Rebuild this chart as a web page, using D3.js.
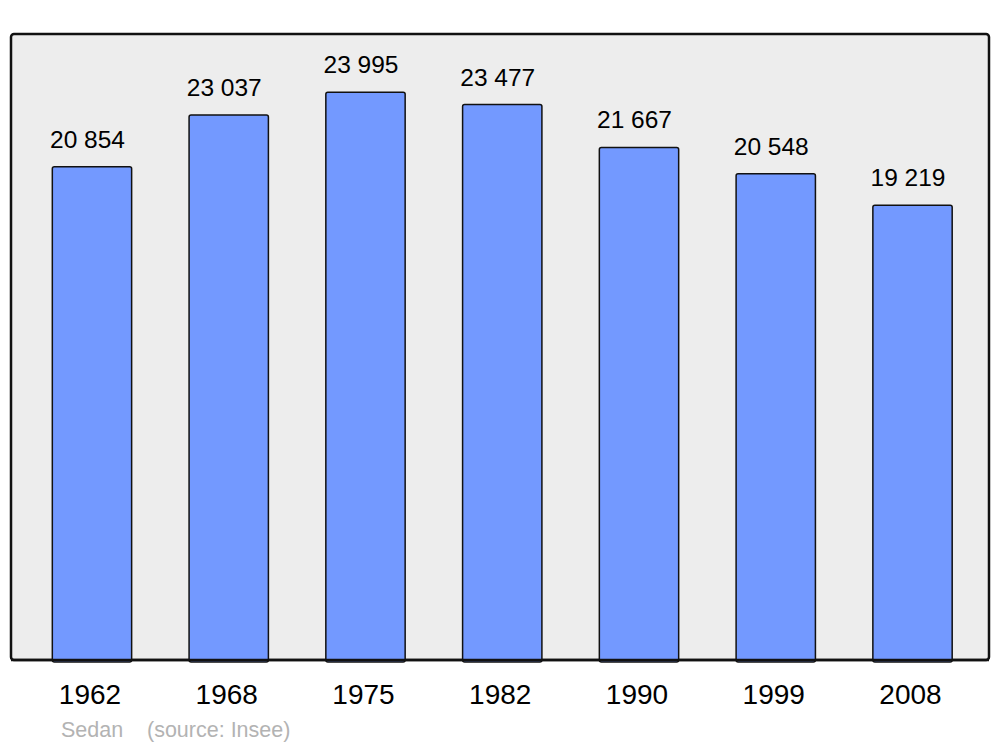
<!DOCTYPE html>
<html>
<head>
<meta charset="utf-8">
<script src="https://cdn.jsdelivr.net/npm/d3@7"></script>
<style>
  body { margin: 0; background: #fff; }
  svg text { font-family: "Liberation Sans", Arial, sans-serif; }
</style>
</head>
<body>
<div id="chart"></div>
<script>
var years = ["1962", "1968", "1975", "1982", "1990", "1999", "2008"];
var population = [20854, 23037, 23995, 23477, 21667, 20548, 19219];
var town = "Sedan";
var source = "(source: Insee)";

var width = 1000, height = 747;
var frame = {left: 11, top: 34, right: 989, bottom: 660};

var svg = d3.select("#chart")
	.append("svg")
	.attr("width", width)
	.attr("height", height);

svg.append("rect")
	.attr("x", frame.left)
	.attr("y", frame.top)
	.attr("width", frame.right - frame.left)
	.attr("height", frame.bottom - frame.top)
	.attr("rx", 3)
	.attr("fill", "#ededed")
	.attr("stroke", "#111")
	.attr("stroke-width", 2.5);

var x = d3.scaleBand()
	.domain(years)
	.range([23.6, 980.9])
	.paddingInner(0.42)
	.paddingOuter(0.21);

var y = d3.scaleLinear()
	.domain([0, 26460])
	.range([frame.bottom, frame.top]);

var data = years.map(function(d, i){ return {year: d, value: population[i]}; });

var bars = svg.selectAll(".bar")
	.data(data)
	.enter()
	.append("g")
	.attr("class", "bar");

bars.append("rect")
	.attr("x", function(d){ return x(d.year); })
	.attr("y", function(d){ return y(d.value); })
	.attr("width", x.bandwidth())
	.attr("height", function(d){ return frame.bottom - y(d.value) + 2; })
	.attr("rx", 2)
	.attr("fill", "#7399ff")
	.attr("stroke", "#111")
	.attr("stroke-width", 1.5);

// redraw frame bottom edge over the bars
svg.append("line")
	.attr("x1", frame.left)
	.attr("x2", frame.right)
	.attr("y1", frame.bottom)
	.attr("y2", frame.bottom)
	.attr("stroke", "#111")
	.attr("stroke-width", 2.5);

bars.append("text")
	.attr("x", function(d){ return x(d.year) + x.bandwidth()/2 - 4.5; })
	.attr("y", function(d){ return y(d.value) - 19; })
	.attr("text-anchor", "middle")
	.attr("font-size", "24.5px")
	.attr("fill", "#000")
	.text(function(d){ return d3.format(",")(d.value).replace(",", " "); });

bars.append("text")
	.attr("x", function(d){ return x(d.year) + x.bandwidth()/2 - 2; })
	.attr("y", 704)
	.attr("text-anchor", "middle")
	.attr("font-size", "28px")
	.attr("fill", "#000")
	.text(function(d){ return d.year; });

svg.append("text")
	.attr("x", 61)
	.attr("y", 737)
	.attr("font-size", "21.5px")
	.attr("fill", "#b3b3b3")
	.text(town);

svg.append("text")
	.attr("x", 147)
	.attr("y", 737)
	.attr("font-size", "21.5px")
	.attr("fill", "#b3b3b3")
	.text(source);
</script>
</body>
</html>
